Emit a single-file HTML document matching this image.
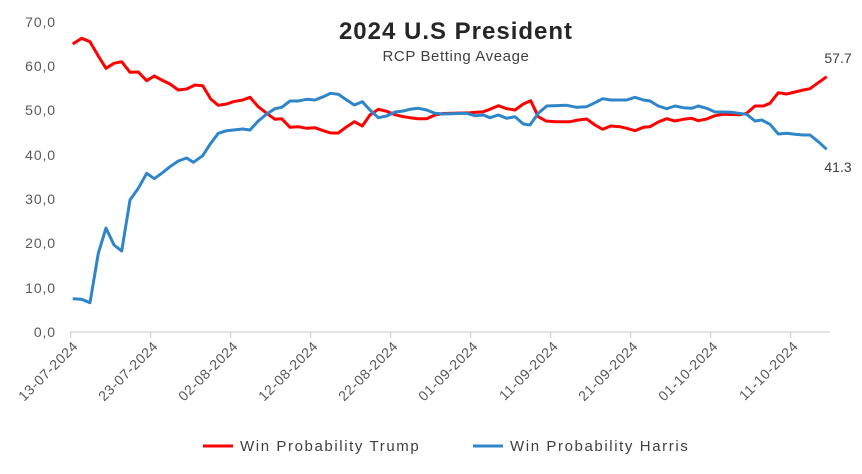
<!DOCTYPE html>
<html><head><meta charset="utf-8"><style>
body{margin:0;background:#fff;}
svg{display:block;font-family:"Liberation Sans",sans-serif;}
</style></head><body>
<svg width="862" height="474" viewBox="0 0 862 474" xmlns="http://www.w3.org/2000/svg">
<rect width="862" height="474" fill="#fff"/>
<text x="456" y="39" text-anchor="middle" font-size="24" font-weight="bold" fill="#262626" letter-spacing="1">2024 U.S President</text>
<text x="456" y="61" text-anchor="middle" font-size="15" fill="#404040" letter-spacing="0.6">RCP Betting Aveage</text>
<g font-size="14" fill="#595959" text-anchor="end" letter-spacing="0.9">
<text x="56" y="337">0,0</text><text x="56" y="293">10,0</text><text x="56" y="248">20,0</text><text x="56" y="204">30,0</text><text x="56" y="160">40,0</text><text x="56" y="115">50,0</text><text x="56" y="71">60,0</text><text x="56" y="27">70,0</text>
</g>
<g stroke="#d9d9d9" stroke-width="1.5">
<line x1="70" y1="332" x2="830" y2="332"/>
<line x1="70.7" y1="332" x2="70.7" y2="338"/><line x1="150.7" y1="332" x2="150.7" y2="338"/><line x1="230.7" y1="332" x2="230.7" y2="338"/><line x1="310.7" y1="332" x2="310.7" y2="338"/><line x1="390.7" y1="332" x2="390.7" y2="338"/><line x1="470.7" y1="332" x2="470.7" y2="338"/><line x1="550.7" y1="332" x2="550.7" y2="338"/><line x1="630.7" y1="332" x2="630.7" y2="338"/><line x1="710.7" y1="332" x2="710.7" y2="338"/><line x1="790.7" y1="332" x2="790.7" y2="338"/>
</g>
<g font-size="14" fill="#595959" text-anchor="end" letter-spacing="0.6">
<text transform="translate(79,347) rotate(-45)">13-07-2024</text>
<text transform="translate(159,347) rotate(-45)">23-07-2024</text>
<text transform="translate(239,347) rotate(-45)">02-08-2024</text>
<text transform="translate(319,347) rotate(-45)">12-08-2024</text>
<text transform="translate(399,347) rotate(-45)">22-08-2024</text>
<text transform="translate(479,347) rotate(-45)">01-09-2024</text>
<text transform="translate(559,347) rotate(-45)">11-09-2024</text>
<text transform="translate(639,347) rotate(-45)">21-09-2024</text>
<text transform="translate(719,347) rotate(-45)">01-10-2024</text>
<text transform="translate(799,347) rotate(-45)">11-10-2024</text>
</g>
<polyline fill="none" stroke="#ff0000" stroke-width="3" stroke-linejoin="round" points="72.7,44 81.7,38.3 90,41.7 98.3,56 106,68.3 114,63.3 121.7,61.7 130,72.3 138.3,72 146.7,80.7 154.3,76 161.7,80 170,84 178.3,90 186.7,89 195,85 202.7,85.7 210.7,99 218.3,105.3 226.7,104 233.3,101.7 242.7,100 250,97.3 258.3,106.7 266.7,113.3 275,119.3 281.7,118.7 290,127.3 298.3,126.7 306.7,128.3 315,127.7 323.3,130.7 330.7,133 338.3,133 346.7,126.7 354.3,121.7 362.3,126 370,115 378.3,109.3 386.7,111.3 395,114.7 403.3,116.7 410,117.7 418.3,118.7 426.7,118.7 435,115 443.3,113.5 470,112.7 483.3,111.7 490,109.3 498.3,105.7 506.7,108.7 515,110 523.3,104 530.7,100.7 538.3,116.7 546,121 555,121.7 570,121.7 578.3,120 586.7,119 595,125 602.7,129.3 610.7,126 620,126.7 626.7,128.3 635,130.7 643.3,127.3 650,126.7 658.3,122 666.7,118.7 675,121 683.3,119.3 691.7,118.3 698.3,120.7 706.7,119 715,115.7 723.3,114.3 740,114.7 746.7,113.3 755,106 763.3,106 770,103.3 778.3,92.7 786.7,94 795,92 803.3,90 810,88.7 818.3,82.7 826.7,76.7"/>
<polyline fill="none" stroke="#2e86c9" stroke-width="3" stroke-linejoin="round" points="72.7,298.7 81.7,299.3 90,302.7 98.3,253.3 106,228 114,245 121.7,251 130,200 138.3,188.3 146.7,173.3 154.3,178.7 161.7,173.3 170,166.7 178.3,161 186.7,158 193.3,162.3 202.7,155.7 210.7,143.3 218.3,133.3 226.7,130.7 242.7,129 250,130 258.3,121 266.7,114 275,108.7 281.7,107.3 290,101 298.3,101 306.7,99.3 315,100 323.3,96.7 330.7,93.3 338.3,94.3 346.7,100 354.3,105 362.3,101.7 370,110 378.3,117.7 386.7,116 395,112 403.3,111 410,109.3 418.3,108.3 426.7,110 435,113.3 443.3,114 466.7,113.3 475,115.7 483.3,115 490,117.7 498.3,115 506.7,118.3 515,116.7 523.3,124 530,125 538.3,113.3 546.7,106 566.7,105.3 576.7,107.3 586.7,106.7 595,102.7 602.7,98.7 610.7,100 626.7,100 635,97.3 643.3,100 650,101 658.3,106 666.7,108.7 675,106 683.3,107.7 691.7,108.3 698.3,106 706.7,108.3 715,112 723.3,112 731.7,112.3 746.7,114.3 755,121 761.7,120 770,124.3 778.3,134 786.7,133.3 795,134.3 803.3,135 810,135 818.3,141.7 826.7,149.3"/>
<text x="838" y="63" text-anchor="middle" font-size="14" fill="#404040">57.7</text>
<text x="838" y="172" text-anchor="middle" font-size="14" fill="#404040">41.3</text>
<line x1="203" y1="446" x2="233" y2="446" stroke="#ff0000" stroke-width="3"/>
<text x="240" y="451" font-size="15" fill="#404040" letter-spacing="1.6">Win Probability Trump</text>
<line x1="473" y1="446" x2="503" y2="446" stroke="#2e86c9" stroke-width="3"/>
<text x="510" y="451" font-size="15" fill="#404040" letter-spacing="1.6">Win Probability Harris</text>
</svg>
</body></html>
